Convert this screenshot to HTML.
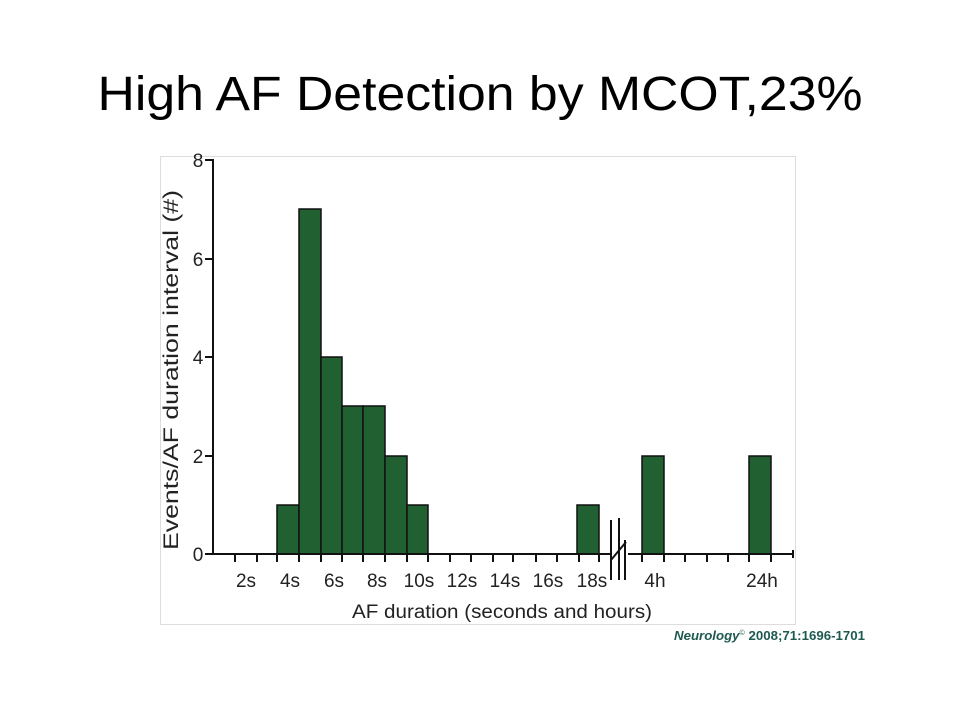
<!DOCTYPE html>
<html><head><style>body{margin:0;background:#fff}svg{display:block}</style></head>
<body>
<svg width="960" height="720" xmlns="http://www.w3.org/2000/svg" font-family="Liberation Sans, sans-serif">
<text x="480" y="110" text-anchor="middle" font-size="48" textLength="765" lengthAdjust="spacingAndGlyphs" fill="#000">High AF Detection by MCOT,23%</text>
<rect x="160.5" y="156.5" width="635" height="468" fill="#fff" stroke="#ddd"/>
<g fill="#216131" stroke="#111" stroke-width="1.5">
<rect x="277" y="505" width="22" height="49"/>
<rect x="299" y="209" width="22" height="345"/>
<rect x="321" y="357" width="21" height="197"/>
<rect x="342" y="406" width="21" height="148"/>
<rect x="363" y="406" width="22" height="148"/>
<rect x="385" y="456" width="22" height="98"/>
<rect x="407" y="505" width="21" height="49"/>
<rect x="577" y="505" width="22" height="49"/>
<rect x="642" y="456" width="22" height="98"/>
<rect x="749" y="456" width="22" height="98"/>
</g>
<g stroke="#111" stroke-width="2" fill="none">
<line x1="213" y1="159" x2="213" y2="555"/>
<line x1="212" y1="554" x2="612" y2="554"/>
<line x1="628" y1="554" x2="794" y2="554"/>
<line x1="205" y1="160" x2="213" y2="160"/>
<line x1="205" y1="259" x2="213" y2="259"/>
<line x1="205" y1="357" x2="213" y2="357"/>
<line x1="205" y1="456" x2="213" y2="456"/>
<line x1="205" y1="554" x2="213" y2="554"/>
<path d="M235 554v8M257 554v8M277 554v8M299 554v8M321 554v8M342 554v8M363 554v8M385 554v8M407 554v8M428 554v8M450 554v8M471 554v8M493 554v8M513 554v8M536 554v8M557 554v8M579 554v8M599 554v8M642 554v8M664 554v8M685 554v8M707 554v8M728 554v8M749 554v8M771 554v8M793 550v8"/>
<path d="M611 520v60M619 518v62M611 560l15-18M625 540v40" stroke-width="2"/>
</g>
<g font-size="19" fill="#222" text-anchor="middle">
<text x="198" y="167">8</text><text x="198" y="266">6</text><text x="198" y="364">4</text><text x="198" y="463">2</text><text x="198" y="561">0</text>
<text x="246" y="587">2s</text><text x="290" y="587">4s</text><text x="334" y="587">6s</text><text x="377" y="587">8s</text><text x="419" y="587">10s</text><text x="462" y="587">12s</text><text x="505" y="587">14s</text><text x="548" y="587">16s</text><text x="592" y="587">18s</text><text x="655" y="587">4h</text><text x="762" y="587">24h</text>
<text x="502" y="618" textLength="300" lengthAdjust="spacingAndGlyphs">AF duration (seconds and hours)</text>
<text transform="translate(178,370) rotate(-90)" font-size="21" textLength="360" lengthAdjust="spacingAndGlyphs">Events/AF duration interval (#)</text>
</g>
<text x="865" y="640" text-anchor="end" font-size="13" fill="#1d5a50" textLength="191" lengthAdjust="spacingAndGlyphs"><tspan font-style="italic" font-weight="bold">Neurology</tspan><tspan font-size="7" dy="-5">©</tspan><tspan dy="5" font-weight="bold"> 2008;71:1696-1701</tspan></text>
</svg>
</body></html>
